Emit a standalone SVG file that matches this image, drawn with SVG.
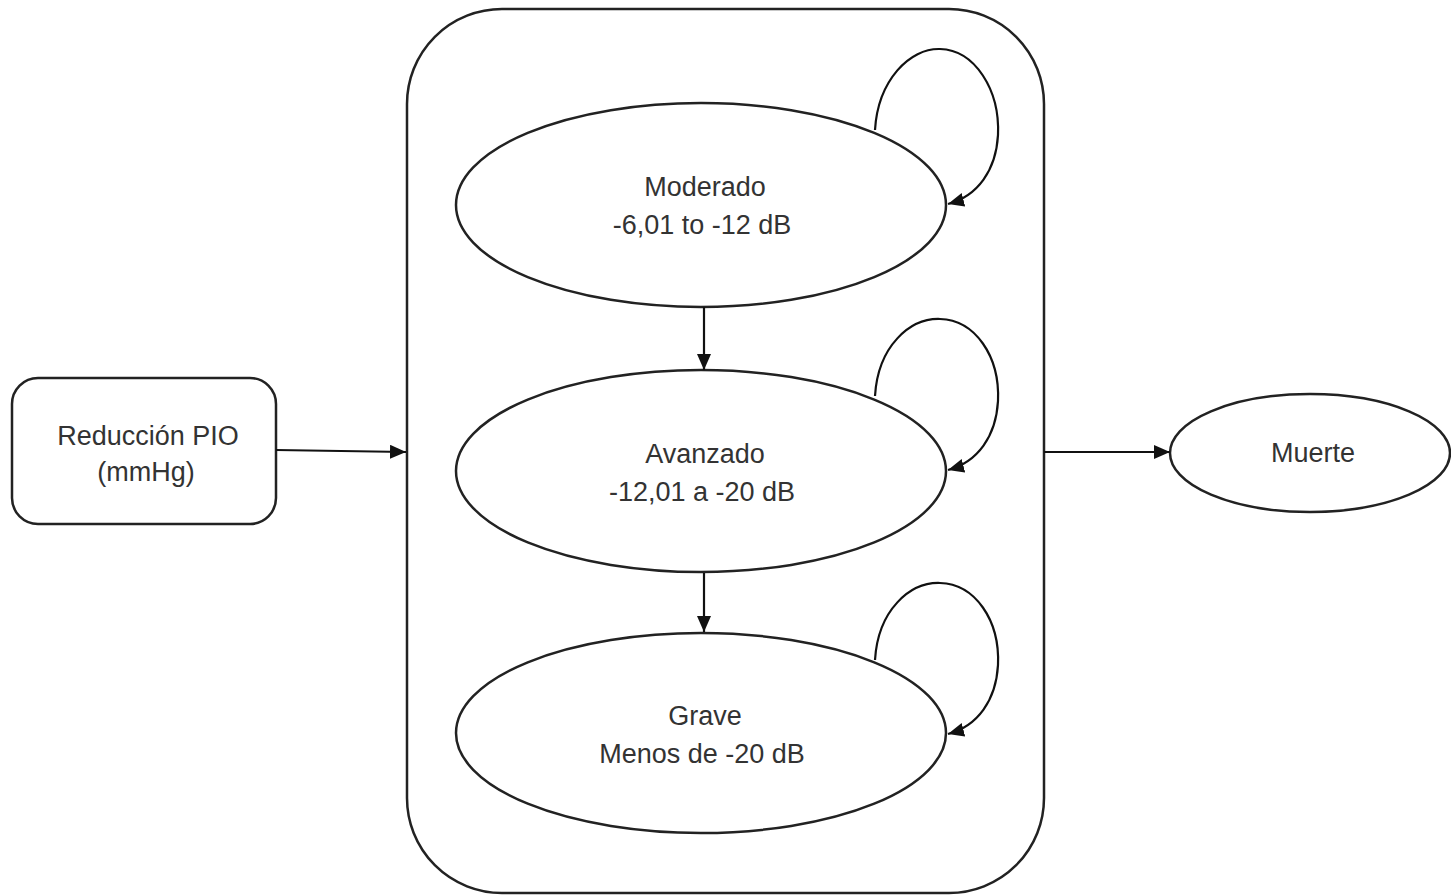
<svg xmlns="http://www.w3.org/2000/svg" width="1451" height="895" viewBox="0 0 1451 895">
<defs>
<marker id="ahL" markerWidth="16" markerHeight="14" refX="16" refY="7" orient="auto" markerUnits="userSpaceOnUse" viewBox="0 0 16 14">
<path d="M0,0 L16,7 L0,14 z" fill="#111"/>
</marker>
</defs>
<style>
.shape{fill:#fff;stroke:#222;stroke-width:2.5}
.edge{fill:none;stroke:#111;stroke-width:2.2}
.lbl{font-family:"Liberation Sans",Arial,sans-serif;font-size:27px;fill:#333;text-anchor:middle}
</style>
<rect width="1451" height="895" fill="#fff"/>
<g id="container"><rect class="shape" x="407" y="9" width="637" height="884" rx="95" ry="95"/></g>
<g id="moderado"><ellipse class="shape" cx="701" cy="205" rx="245" ry="102"/>
<text class="lbl" x="705" y="196">Moderado</text><text class="lbl" x="702" y="234">-6,01 to -12 dB</text></g>
<g id="avanzado"><ellipse class="shape" cx="701" cy="471" rx="245" ry="101"/>
<text class="lbl" x="705" y="463">Avanzado</text><text class="lbl" x="702" y="501">-12,01 a -20 dB</text></g>
<g id="grave"><ellipse class="shape" cx="701" cy="733" rx="245" ry="100"/>
<text class="lbl" x="705" y="725">Grave</text><text class="lbl" x="702" y="763">Menos de -20 dB</text></g>
<g id="reduccion"><rect class="shape" x="12" y="378" width="264" height="146" rx="26" ry="26"/>
<text class="lbl" x="148" y="445">Reducción PIO</text><text class="lbl" x="146" y="481">(mmHg)</text></g>
<g id="muerte"><ellipse class="shape" cx="1310" cy="453" rx="140" ry="59"/>
<text class="lbl" x="1313" y="462">Muerte</text></g>
<g id="connectors">
<path class="edge" d="M276,450 L406,452" marker-end="url(#ahL)"/>
<path class="edge" d="M1044,452 L1170,452" marker-end="url(#ahL)"/>
<path class="edge" d="M704,307 L704,370" marker-end="url(#ahL)"/>
<path class="edge" d="M704,573 L704,632" marker-end="url(#ahL)"/>
<path class="edge" d="M875,130 C878,80 910,48 940,49 C975,50 1000,90 998,135 C996,170 978,196 948,204" marker-end="url(#ahL)"/>
<path class="edge" d="M875,396 C878,346 910,318 940,319 C975,320 1000,356 998,401 C996,436 978,462 948,470" marker-end="url(#ahL)"/>
<path class="edge" d="M875,660 C878,610 910,582 940,583 C975,584 1000,620 998,665 C996,700 978,726 948,734" marker-end="url(#ahL)"/>
</g>
</svg>
